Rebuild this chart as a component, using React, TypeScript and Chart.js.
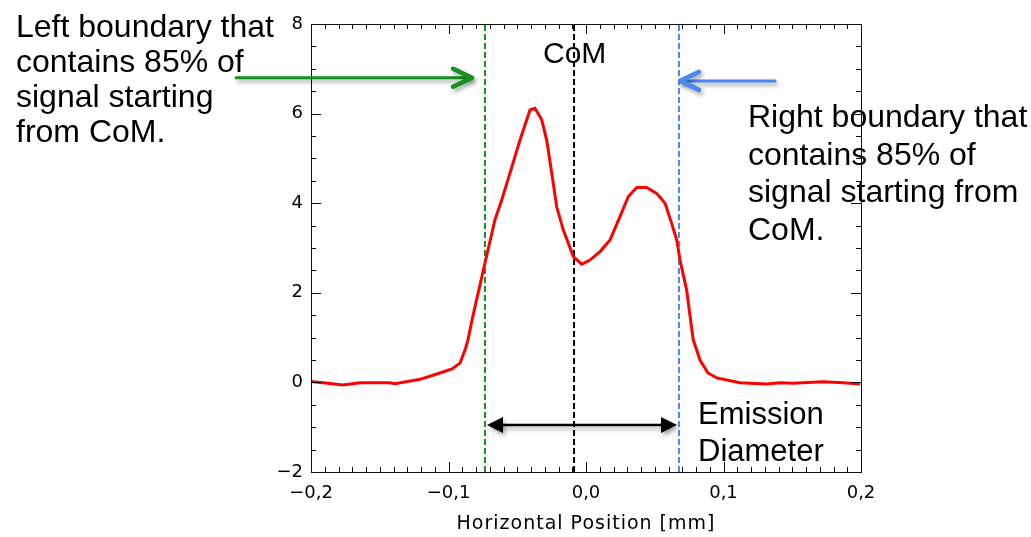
import React, { useEffect, useRef } from "react";
import { Chart, registerables } from "chart.js";

Chart.register(...registerables);

// ---- data ----
const curveX = [
  -0.2, -0.1985, -0.1913, -0.1767, -0.1644, -0.1425, -0.1389, -0.1207, -0.1062, -0.0975,
  -0.0916, -0.088, -0.0858, -0.0829, -0.08, -0.0771, -0.0735, -0.0662, -0.0613, -0.0553,
  -0.048, -0.0407, -0.0371, -0.0322, -0.0286, -0.0249, -0.0213, -0.0165, -0.0092, -0.0031,
  0.0029, 0.0102, 0.0175, 0.0247, 0.0308, 0.0369, 0.0441, 0.0514, 0.0575, 0.0623,
  0.066, 0.0684, 0.0732, 0.0756, 0.078, 0.0829, 0.0887, 0.0951, 0.112, 0.1314,
  0.1411, 0.1505, 0.1724, 0.1869, 0.1993,
];
const curveY = [
  0.03, 0.016, -0.007, -0.058, -0.007, -0.007, -0.029, 0.069, 0.21, 0.3,
  0.43, 0.72, 0.95, 1.39, 1.79, 2.17, 2.66, 3.63, 4.07, 4.67,
  5.41, 6.08, 6.12, 5.86, 5.41, 4.67, 3.92, 3.4, 2.81, 2.64,
  2.73, 2.92, 3.18, 3.7, 4.15, 4.35, 4.35, 4.22, 4.0, 3.55,
  3.18, 2.73, 2.06, 1.5, 0.95, 0.5, 0.21, 0.1, -0.007, -0.036,
  -0.007, -0.02, 0.016, -0.007, -0.036,
];
const leftBoundary = -0.0735;
const comPosition = -0.0087;
const rightBoundary = 0.0676;
const xRange = [-0.2, 0.2];
const yRange = [-2, 8];
const xTickStep = 0.1;
const yTickStep = 2;
const axisTitle = "Horizontal Position [mm]";

const leftNote = ["Left boundary that", "contains 85% of", "signal starting", "from CoM."];
const rightNote = ["Right boundary that", "contains 85% of", "signal starting from", "CoM."];
const comLabel = "CoM";
const diameterNote = ["Emission", "Diameter"];

// arrows in data units: [x0, x1, y]
const greenArrow = [-0.2545, -0.0829, 6.8];
const blueArrow = [0.1375, 0.0684, 6.73];
const diameterArrow = [-0.072, 0.0662, -0.95];

const GREEN = "#14901c";
const BLUE = "#4a88ee";
const TICK_FONT = '"DejaVu Sans", sans-serif';

const fmt = (v: number, dec: number) => {
  const s = (Math.round(v * 10) / 10).toFixed(dec).replace(".", ",");
  return s.replace("-", "\u2212");
};

const framePlugin = {
  id: "frame",
  beforeDatasetsDraw(chart: any) {
    const ctx = chart.ctx as CanvasRenderingContext2D;
    const a = chart.chartArea;
    ctx.save();
    ctx.fillStyle = "#000";
    ctx.textBaseline = "alphabetic";
    ctx.textAlign = "left";
    ctx.font = '32px "Liberation Sans", Arial, sans-serif';
    leftNote.forEach((t, i) => ctx.fillText(t, 16, 37 + i * 35));
    rightNote.forEach((t, i) => ctx.fillText(t, 748, 127 + i * 37.5));
    ctx.font = '30px "Liberation Sans", Arial, sans-serif';
    ctx.fillText(comLabel, 543, 63);
    ctx.font = '31px "Liberation Sans", Arial, sans-serif';
    diameterNote.forEach((t, i) => ctx.fillText(t, 698, 424 + i * 37));
    // axis title with wide tracking
    ctx.font = `19px ${TICK_FONT}`;
    (ctx as any).letterSpacing = "1px";
    ctx.textAlign = "center";
    ctx.textBaseline = "middle";
    ctx.fillText(axisTitle, (a.left + a.right) / 2, 524);
    ctx.restore();
  },
  afterDatasetsDraw(chart: any) {
    const ctx = chart.ctx as CanvasRenderingContext2D;
    const a = chart.chartArea;
    const xs = chart.scales.x;
    const ys = chart.scales.y;
    ctx.save();
    ctx.strokeStyle = "#111";
    ctx.lineWidth = 1;
    ctx.strokeRect(Math.round(a.left) + 0.5, Math.round(a.top) + 0.5, Math.round(a.right - a.left), Math.round(a.bottom - a.top));
    ctx.beginPath();
    for (let i = -20; i <= 20; i++) {
      const px = Math.round(xs.getPixelForValue(i / 100)) + 0.5;
      const len = i % 10 === 0 ? 10 : 5;
      ctx.moveTo(px, a.bottom);
      ctx.lineTo(px, a.bottom - len);
      ctx.moveTo(px, a.top);
      ctx.lineTo(px, a.top + len);
    }
    for (let i = -4; i <= 16; i++) {
      const py = Math.round(ys.getPixelForValue(i / 2)) + 0.5;
      const len = i % 4 === 0 ? 10 : 5;
      ctx.moveTo(a.left, py);
      ctx.lineTo(a.left + len, py);
      ctx.moveTo(a.right, py);
      ctx.lineTo(a.right - len, py);
    }
    ctx.stroke();
    ctx.restore();
  },
  afterDraw(chart: any) {
    const ctx = chart.ctx as CanvasRenderingContext2D;
    const xs = chart.scales.x;
    const ys = chart.scales.y;
    const X = (v: number) => xs.getPixelForValue(v);
    const Y = (v: number) => ys.getPixelForValue(v);
    ctx.save();
    ctx.shadowColor = "rgba(0,0,0,0.35)";
    ctx.shadowBlur = 4;
    ctx.shadowOffsetX = 2;
    ctx.shadowOffsetY = 3;
    ctx.lineCap = "round";
    ctx.lineJoin = "round";

    const chevron = (x0: number, x1: number, y: number, color: string) => {
      const dir = Math.sign(x1 - x0);
      ctx.strokeStyle = color;
      ctx.lineWidth = 3;
      ctx.beginPath();
      ctx.moveTo(x0, y);
      ctx.lineTo(x1 - dir * 1, y);
      ctx.stroke();
      ctx.lineWidth = 4.5;
      ctx.beginPath();
      ctx.moveTo(x1 - dir * 19, y - 9);
      ctx.lineTo(x1, y);
      ctx.lineTo(x1 - dir * 19, y + 9);
      ctx.stroke();
    };
    chevron(X(greenArrow[0]), X(greenArrow[1]), Y(greenArrow[2]), GREEN);
    chevron(X(blueArrow[0]), X(blueArrow[1]), Y(blueArrow[2]), BLUE);

    const dx0 = X(diameterArrow[0]);
    const dx1 = X(diameterArrow[1]);
    const dy = Y(diameterArrow[2]);
    ctx.strokeStyle = "#000";
    ctx.fillStyle = "#000";
    ctx.lineWidth = 2.5;
    ctx.lineCap = "butt";
    ctx.beginPath();
    ctx.moveTo(dx0 + 10, dy);
    ctx.lineTo(dx1 - 10, dy);
    ctx.stroke();
    const head = (tip: number, dir: number) => {
      ctx.beginPath();
      ctx.moveTo(tip, dy);
      ctx.lineTo(tip - dir * 16, dy - 8);
      ctx.lineTo(tip - dir * 16, dy + 8);
      ctx.closePath();
      ctx.fill();
    };
    head(dx0, -1);
    head(dx1, 1);
    ctx.restore();
  },
};

const vline = (x: number, color: string) => ({
  type: "line" as const,
  data: [
    { x, y: yRange[0] },
    { x, y: yRange[1] },
  ],
  borderColor: color,
  borderWidth: 2,
  borderDash: [6, 3],
  pointRadius: 0,
  fill: false,
  order: 2,
});

export default function App() {
  const ref = useRef<HTMLCanvasElement>(null);
  useEffect(() => {
    if (!ref.current) return;
    const chart = new Chart(ref.current, {
      type: "line",
      data: {
        datasets: [
          {
            data: curveX.map((x, i) => ({ x, y: curveY[i] })),
            borderColor: "#ff0000",
            borderWidth: 3,
            pointRadius: 0,
            tension: 0,
            fill: false,
            order: 0,
          } as any,
          vline(leftBoundary, GREEN),
          vline(comPosition, "#000"),
          vline(rightBoundary, BLUE),
        ],
      },
      options: {
        responsive: false,
        animation: false,
        events: [],
        layout: { padding: { top: 24, right: 170, left: 0, bottom: 0 } },
        plugins: { legend: { display: false }, tooltip: { enabled: false } },
        scales: {
          x: {
            type: "linear",
            min: xRange[0],
            max: xRange[1],
            afterFit: (s: any) => {
              s.height = 65;
            },
            afterBuildTicks: (s: any) => {
              const t = [];
              for (let v = xRange[0]; v <= xRange[1] + 1e-9; v += xTickStep) t.push({ value: Math.round(v * 10) / 10 });
              s.ticks = t;
            },
            ticks: {
              color: "#000",
              padding: 11,
              maxRotation: 0,
              autoSkip: false,
              font: { family: TICK_FONT, size: 18 },
              callback: (v: any) => fmt(Number(v), 1),
            },
            grid: { display: false, drawTicks: false },
            border: { display: false },
          },
          y: {
            type: "linear",
            min: yRange[0],
            max: yRange[1],
            afterFit: (s: any) => {
              s.width = 311;
            },
            afterBuildTicks: (s: any) => {
              const t = [];
              for (let v = yRange[0]; v <= yRange[1]; v += yTickStep) t.push({ value: v });
              s.ticks = t;
            },
            ticks: {
              color: "#000",
              padding: 8,
              autoSkip: false,
              font: { family: TICK_FONT, size: 18 },
              callback: (v: any) => fmt(Number(v), 0),
            },
            grid: { display: false, drawTicks: false },
            border: { display: false },
          },
        },
      },
      plugins: [framePlugin],
    });
    return () => chart.destroy();
  }, []);
  return (
    <div style={{ position: "absolute", left: 0, top: 0, width: 1031, height: 537, background: "#fff" }}>
      <canvas ref={ref} width={1031} height={537} style={{ display: "block" }} />
    </div>
  );
}
